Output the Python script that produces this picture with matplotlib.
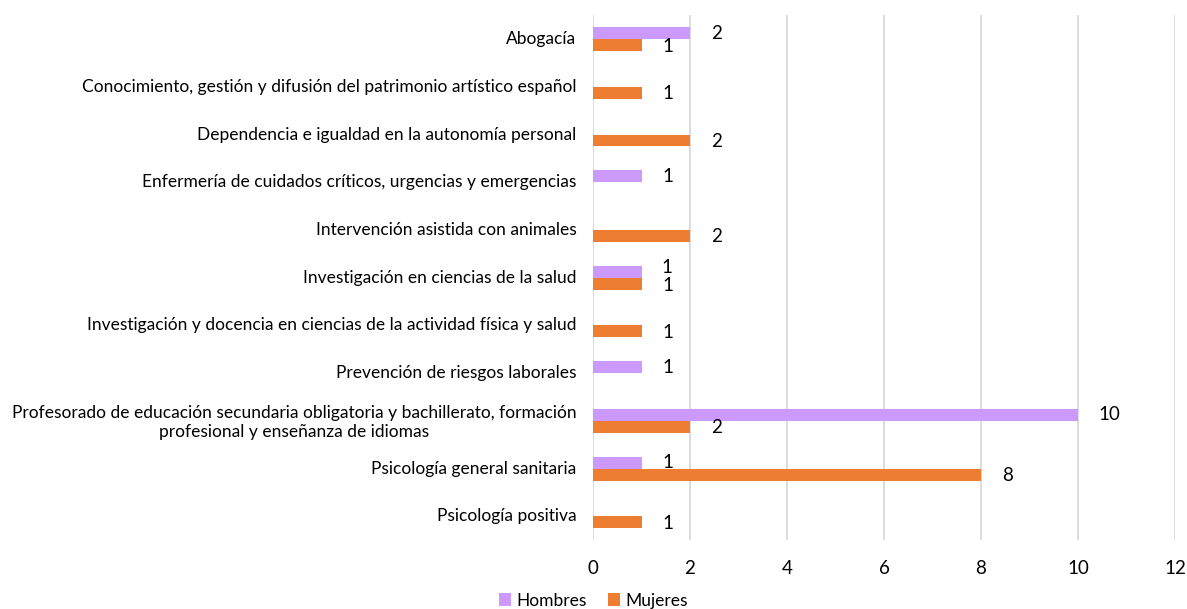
import matplotlib
matplotlib.use("Agg")
import matplotlib.pyplot as plt
import numpy as np

plt.rcParams["font.family"] = ["Lato", "DejaVu Sans"]

categories = [
    "Abogacía",
    "Conocimiento, gestión y difusión del patrimonio artístico español",
    "Dependencia e igualdad en la autonomía personal",
    "Enfermería de cuidados críticos, urgencias y emergencias",
    "Intervención asistida con animales",
    "Investigación en ciencias de la salud",
    "Investigación y docencia en ciencias de la actividad física y salud",
    "Prevención de riesgos laborales",
    "Profesorado de educación secundaria obligatoria y bachillerato, formación\nprofesional y enseñanza de idiomas",
    "Psicología general sanitaria",
    "Psicología positiva",
]
hombres = [2, 0, 0, 1, 0, 1, 0, 1, 10, 1, 0]
mujeres = [1, 1, 2, 0, 2, 1, 1, 0, 2, 8, 1]

c_h = "#CC99FF"
c_m = "#ED7D31"

fig = plt.figure(figsize=(11.87, 6.09), dpi=100)
ax = fig.add_axes([0.4996, 0.113, 0.4903, 0.862])

y = np.arange(len(categories))
h = 0.25
bh = ax.barh(y - h / 2, hombres, height=h, color=c_h, label="Hombres", zorder=3)
bm = ax.barh(y + h / 2, mujeres, height=h, color=c_m, label="Mujeres", zorder=3)

for i, (vh, vm) in enumerate(zip(hombres, mujeres)):
    clash = vh > 0 and vh == vm
    if vh:
        ax.annotate(str(vh), (vh, y[i] - h / 2 - (0.09 if clash else 0)),
                    xytext=(14 if clash else 15, 0), textcoords="offset points",
                    ha="left", va="center", fontsize=13.5)
    if vm:
        ax.annotate(str(vm), (vm, y[i] + h / 2 + (0.04 if clash else 0.02)),
                    xytext=(15, 0), textcoords="offset points",
                    ha="left", va="center", fontsize=13.5)

ax.set_xlim(0, 12)
ax.set_xticks(range(0, 13, 2))
ax.set_ylim(len(categories) - 0.5, -0.5)
ax.set_yticks(y - 0.03)
ax.set_yticklabels(categories, fontsize=12.5, multialignment="center")
ax.tick_params(axis="y", length=0, pad=12)
ax.tick_params(axis="x", length=0, pad=14, labelsize=13.5)
ax.grid(axis="x", color="#D9D9D9", linewidth=1.3, zorder=0)
for s in ax.spines.values():
    s.set_visible(False)

fig.legend(handles=[bh, bm], loc="lower center", bbox_to_anchor=(0.5, -0.025),
           ncol=2, frameon=False, fontsize=12.5, handlelength=0.7,
           handleheight=0.7, handletextpad=0.3, columnspacing=1.2)

fig.savefig("out.png", dpi=100)
